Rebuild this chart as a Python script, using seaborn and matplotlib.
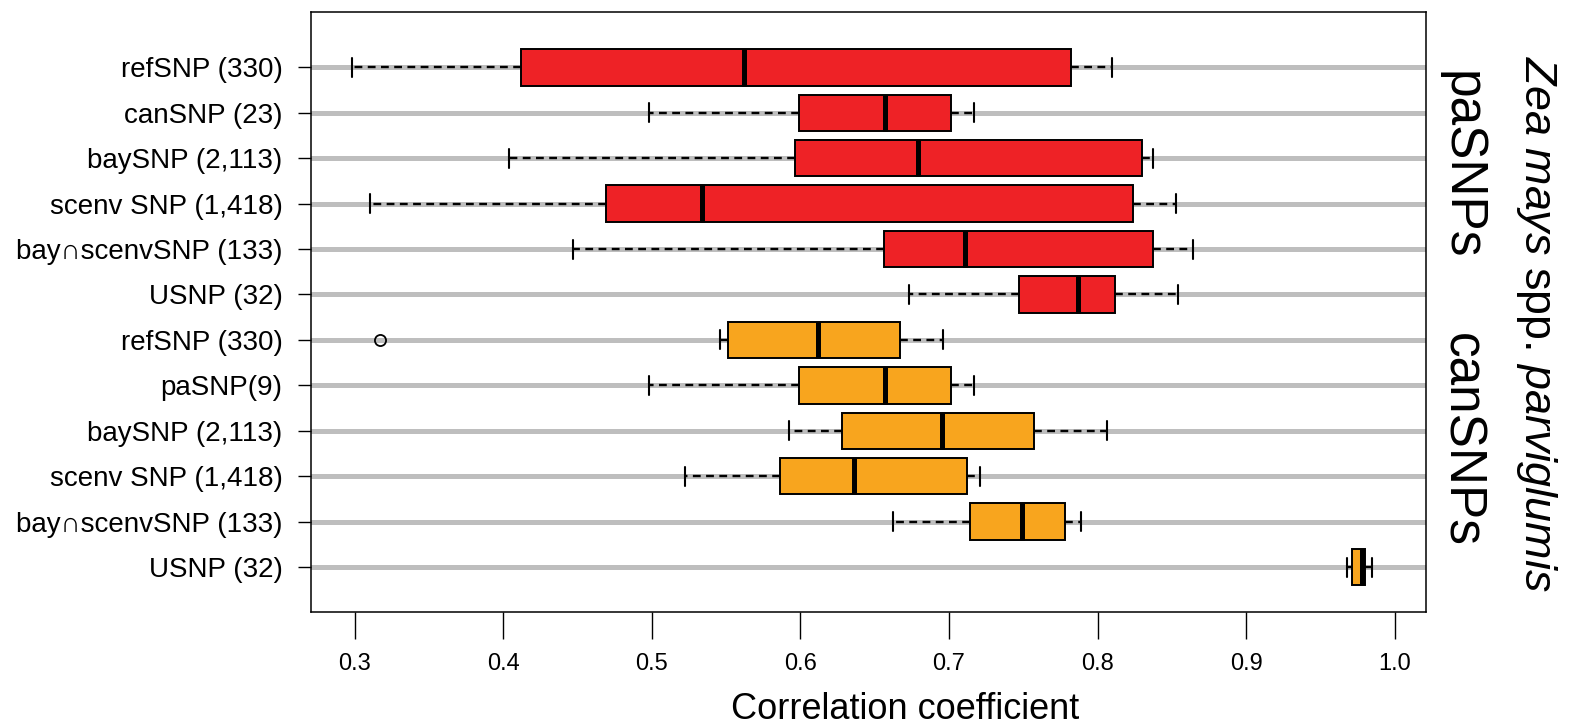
import matplotlib
matplotlib.use("Agg")
import matplotlib.pyplot as plt
import matplotlib.transforms as mtransforms
import numpy as np
import pandas as pd
import seaborn as sns

# ---------------- data ----------------
groups = ["paSNPs"] * 6 + ["canSNPs"] * 6
row_labels = [
    "refSNP (330)", "canSNP (23)", "baySNP (2,113)", "scenv SNP (1,418)",
    "bay\u2229scenvSNP (133)", "USNP (32)",
    "refSNP (330)", "paSNP(9)", "baySNP (2,113)", "scenv SNP (1,418)",
    "bay\u2229scenvSNP (133)", "USNP (32)",
]
whisker_low = [0.298, 0.498, 0.404, 0.310, 0.447, 0.673,
               0.546, 0.498, 0.592, 0.522, 0.662, 0.968]
q1 = [0.412, 0.599, 0.596, 0.469, 0.656, 0.747,
      0.551, 0.599, 0.628, 0.586, 0.714, 0.971]
median = [0.562, 0.657, 0.679, 0.534, 0.711, 0.787,
          0.612, 0.657, 0.695, 0.636, 0.749, 0.978]
q3 = [0.782, 0.701, 0.830, 0.824, 0.837, 0.812,
      0.667, 0.701, 0.757, 0.712, 0.778, 0.980]
whisker_high = [0.810, 0.717, 0.837, 0.853, 0.864, 0.854,
                0.696, 0.717, 0.806, 0.721, 0.789, 0.985]
outliers = [[], [], [], [], [], [], [0.317], [], [], [], [], []]

xticks = [0.3, 0.4, 0.5, 0.6, 0.7, 0.8, 0.9, 1.0]
xtick_labels = ["0.3", "0.4", "0.5", "0.6", "0.7", "0.8", "0.9", "1.0"]

RED = "#EE2226"
ORANGE = "#F8A51E"
GREY = "#BEBEBE"

# Build long-form samples whose box statistics equal the values above
keys = [f"{g}: {lab}" for g, lab in zip(groups, row_labels)]
records = []
for k, g, lo, a, m, b, hi, out in zip(keys, groups, whisker_low, q1, median,
                                      q3, whisker_high, outliers):
    vals = list(out) + [lo] * (2 - len(out)) + [a, a, m, b, b, hi, hi]
    for v in vals:
        records.append({"row": k, "group": g, "value": v})
df = pd.DataFrame(records)

# ---------------- figure ----------------
sns.set_style("ticks")
plt.rcParams["font.family"] = ["Liberation Sans", "DejaVu Sans"]
plt.rcParams["mathtext.fontset"] = "custom"
plt.rcParams["mathtext.rm"] = "Liberation Sans"
plt.rcParams["mathtext.it"] = "Liberation Sans:italic"
plt.rcParams["lines.scale_dashes"] = True
for key in ["text.color", "axes.labelcolor", "xtick.color", "ytick.color",
            "axes.edgecolor"]:
    plt.rcParams[key] = "black"

fig = plt.figure(figsize=(15.83, 7.27), dpi=100)
ax = fig.add_axes([0.1963, 0.1575, 0.7045, 0.8264])

for i in range(len(keys)):
    ax.axhline(i, color=GREY, lw=3.6, zorder=0)

sns.boxplot(
    data=df, x="value", y="row", hue="group", order=keys,
    hue_order=["paSNPs", "canSNPs"],
    palette={"paSNPs": RED, "canSNPs": ORANGE},
    saturation=1, dodge=False, width=0.8, whis=1.5,
    linecolor="black", linewidth=1.4, legend=False, ax=ax,
    capwidths=0.42,
    whiskerprops=dict(linestyle=(0, (3.3, 2.3)), linewidth=1.7),
    capprops=dict(linewidth=1.5),
    medianprops=dict(linewidth=3.6),
    flierprops=dict(marker="o", markerfacecolor="none",
                    markeredgecolor="black", markersize=8,
                    markeredgewidth=1.3),
)

ax.set_xlim(0.2704, 1.021)
ax.set_ylim(12.0, -1.225)
ax.set_xticks(xticks)
ax.set_xticklabels(xtick_labels, fontsize=17)
ax.set_yticks(range(len(keys)))
ax.set_yticklabels(row_labels, fontsize=20)
ax.tick_params(axis="x", length=19.4, width=1.0, pad=10, color="black",
               labelcolor="black")
ax.tick_params(axis="y", length=9.4, width=1.0, pad=11, color="black",
               labelcolor="black")
ax.set_xlabel("Correlation coefficient", fontsize=26, labelpad=12,
              x=0.5334, ha="center", color="black")
ax.set_ylabel("")
for s in ax.spines.values():
    s.set_visible(True)
    s.set_color("black")
    s.set_linewidth(1.1)

trans = mtransforms.blended_transform_factory(ax.transAxes, ax.transData)
ax.text(1.0314, 2.15, "paSNPs", rotation=270, ha="center", va="center",
        fontsize=37, transform=trans, color="black")
ax.text(1.0314, 8.2, "canSNPs", rotation=270, ha="center", va="center",
        fontsize=37, transform=trans, color="black")
ax.text(1.0995, 5.64, r"$\mathit{Zea\ mays}$ spp. $\mathit{parviglumis}$",
        rotation=270, ha="center", va="center", fontsize=32.3,
        transform=trans, color="black")

fig.savefig("out.png", dpi=100)
